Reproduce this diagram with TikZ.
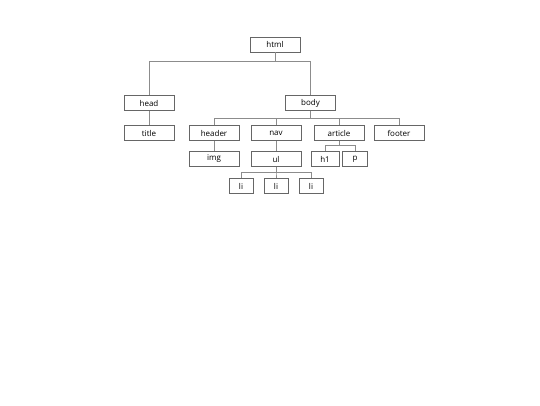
\documentclass[tikz,border=0pt]{standalone}
\usepackage{fontspec}
\setmainfont{Open Sans}
\begin{document}
\begin{tikzpicture}[x=1pt,y=-1pt,
  box/.style={draw=black!60,line width=0.6pt,minimum width=50pt,minimum height=15pt,inner sep=0pt,text=black,font=\fontsize{8}{9}\selectfont},
  smallbox/.style={box,minimum width=24pt},
  conn/.style={draw=black!45,line width=0.8pt}]
\useasboundingbox (0,0) rectangle (540,405);
\node[box] (html) at (275,44.5) {html};
\node[box] (head) at (149,103) {head};
\node[box] (body) at (310.5,103) {body};
\node[box] (title) at (149,133) {title};
\node[box] (header) at (214,133) {header};
\node[box] (nav) at (276,133) {nav};
\node[box] (article) at (339,133) {article};
\node[box] (footer) at (399,133) {footer};
\node[box] (img) at (214,159) {img};
\node[box] (ul) at (276,159) {ul};
\node[box,minimum width=28pt] (h1) at (325,159) {h1};
\node[box,minimum width=25pt] (p) at (355,159) {p};
\node[smallbox] (li1) at (241,186) {li};
\node[smallbox] (li2) at (276,186) {li};
\node[smallbox] (li3) at (311,186) {li};
\draw[conn] (html.south) -- ++(0,9) -| (head.north);
\draw[conn] (html.south) -- ++(0,9) -| (body.north);
\draw[conn] (head) -- (title);
\foreach \c in {header,nav,article,footer}
  \draw[conn] (body.south) -- ++(0,8) -| (\c.north);
\draw[conn] (header) -- (img);
\draw[conn] (nav) -- (ul);
\draw[conn] (article.south) -- ++(0,5) -| (h1.north);
\draw[conn] (article.south) -- ++(0,5) -| (p.north);
\foreach \c in {li1,li2,li3}
  \draw[conn] (ul.south) -- ++(0,6) -| (\c.north);
\end{tikzpicture}
\end{document}
